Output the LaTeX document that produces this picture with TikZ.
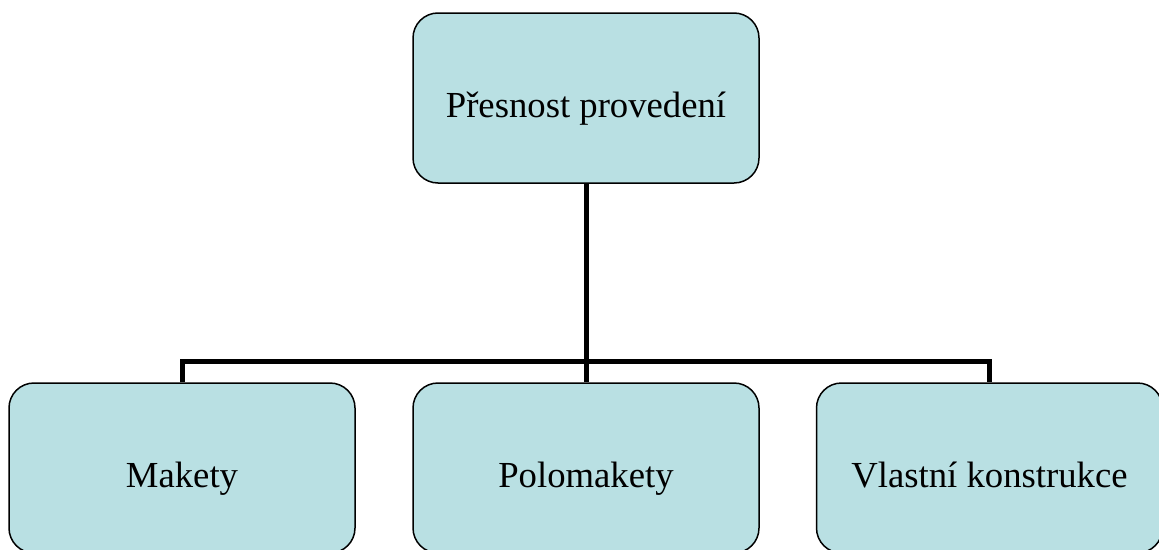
\documentclass[tikz,border=0pt]{standalone}
\usepackage{fontspec}
\setmainfont{Liberation Serif}

\definecolor{boxfill}{HTML}{B9E0E3}

\begin{document}
\begin{tikzpicture}[x=1pt, y=-1pt, box/.style={draw, fill=boxfill, line width=1.5pt, rounded corners=25pt, minimum width=346pt, minimum height=170pt, inner sep=0pt}, txt/.style={anchor=base, inner sep=0pt, font=\fontsize{36.7}{44}\selectfont}, conn/.style={line width=5pt, line join=miter}, ]

\clip (0,0) rectangle (1159,549);

\node (top) [box] at (586,98) {};
\node (topText) [txt] at (586,117) {Přesnost provedení};

\foreach \x/\name/\lab in {182/mak/Makety, 586/pol/Polomakety, 989.5/kon/Vlastní konstrukce}
{
  \node (\name) [box] at (\x,468) {};
  \node (\name Text) [txt] at (\x,487) {\lab};
}

\coordinate (bus) at (586,361);

\draw [conn] (top.south) -- (pol.north);
\draw [conn] (mak.north) -- (mak.north |- bus) -- (kon.north |- bus) -- (kon.north);

\end{tikzpicture}
\end{document}
